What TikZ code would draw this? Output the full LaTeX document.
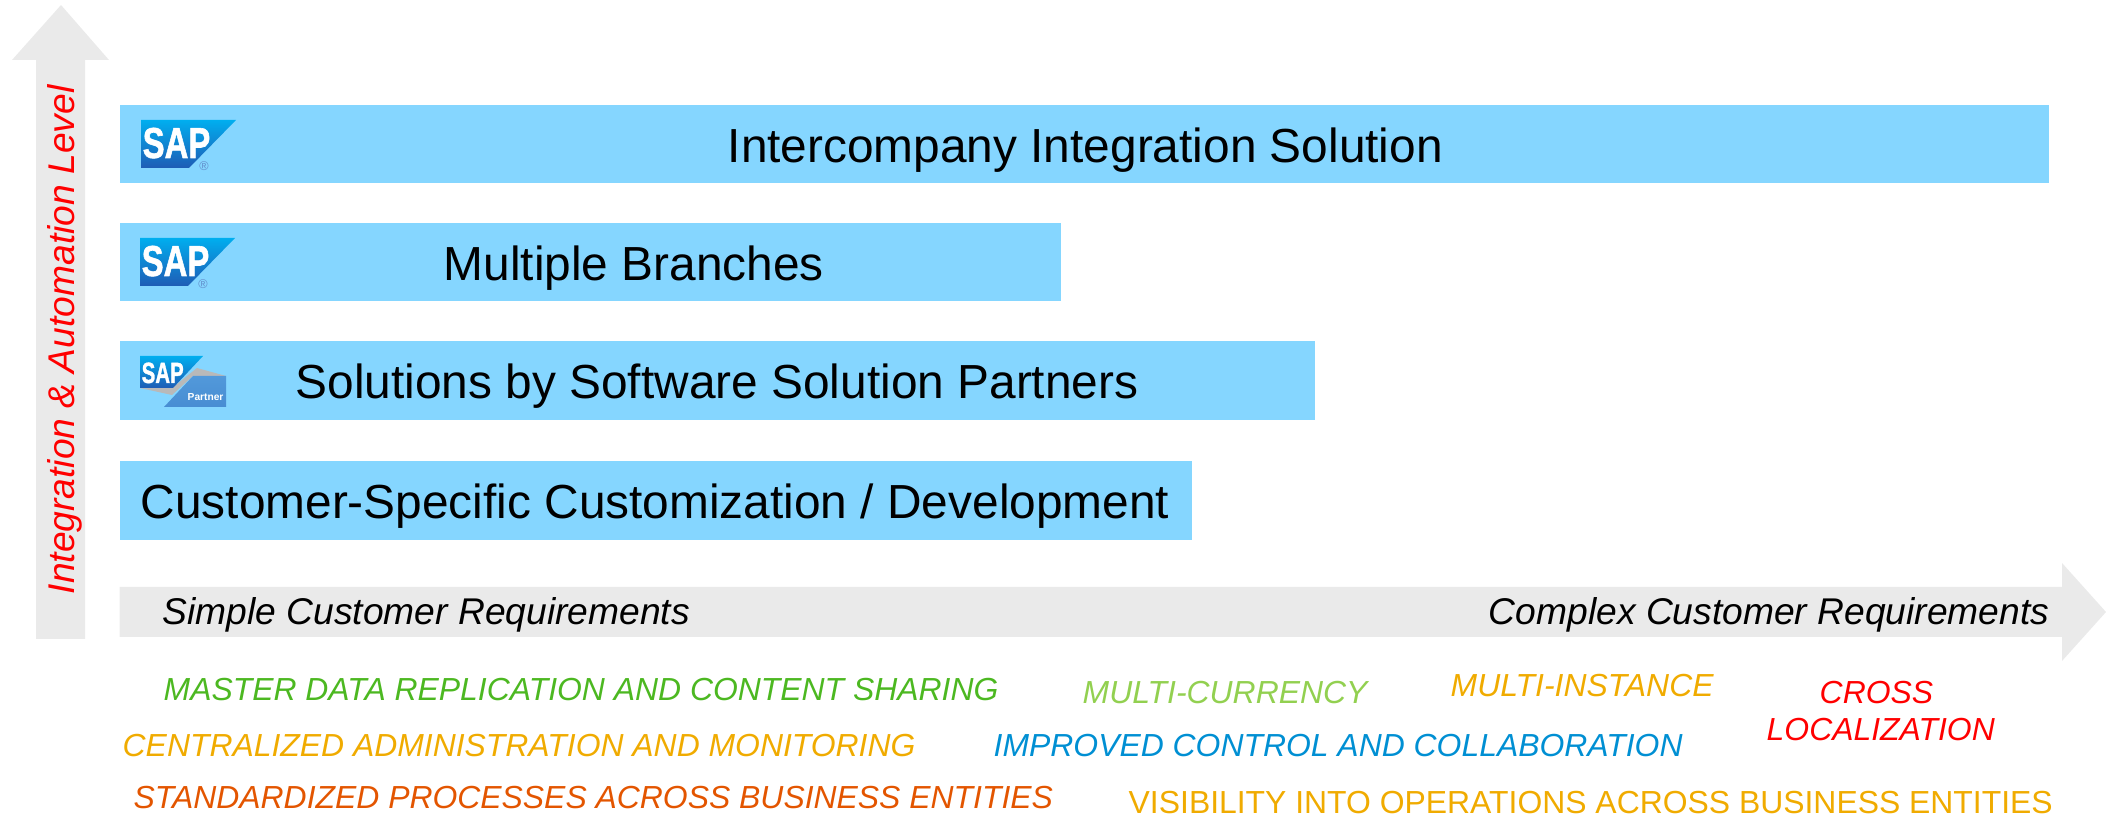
\documentclass[tikz,border=0pt]{standalone}
\usepackage{graphicx}
\usepackage{xcolor}
\usepackage{fontspec}
\setmainfont{Liberation Sans}
\newfontfamily\logofont[FakeBold=1.5]{Liberation Sans}
\usepackage{tikz}

\definecolor{barblue}{HTML}{85D6FF}
\definecolor{axisgrey}{HTML}{EAEAEA}
\definecolor{sapgreen}{HTML}{4CB821}
\definecolor{saplime}{HTML}{92D050}
\definecolor{sapamber}{HTML}{F0AB00}
\definecolor{sapcyan}{HTML}{008FD3}
\definecolor{saporange}{HTML}{E35500}
\definecolor{logotop}{HTML}{00AEEF}
\definecolor{logobottom}{HTML}{1F5CB5}

\tikzset{
  bar/.style={fill=barblue,draw=none,anchor=north west,inner sep=0pt},
  barlabel/.style={anchor=base west,inner sep=0pt,font=\fontsize{13.6pt}{16pt}\selectfont},
  axislabel/.style={anchor=base west,inner sep=0pt,font=\fontsize{10.58pt}{12pt}\selectfont\itshape},
  tag/.style={anchor=base west,inner sep=0pt,font=\fontsize{9.07pt}{10pt}\selectfont\itshape},
}

% logo, with its upper left corner at (#1,#2)
\newcommand{\saplogo}[3]{
  \shade[top color=logotop,bottom color=logobottom] (#1,#2) -- ++(95,0) -- ++(-47,48) -- ++(-48,0) -- cycle;
  \node[anchor=base west,inner sep=0pt,text=white,text depth=0pt] (#3) at (#1+1,#2+38)
    {\scalebox{0.76}[1]{\fontsize{12.3pt}{14pt}\logofont\bfseries SAP}};
  \node[anchor=center,inner sep=0pt,text=logobottom!70] (#3r) at (#1+63,#2+46)
    {\fontsize{3.6pt}{4pt}\selectfont\textregistered};
}

\begin{document}
\begin{tikzpicture}[x=0.01cm,y=-0.01cm]
  \useasboundingbox (0,0) rectangle (2106,816);
  % axes
  \fill[axisgrey] (61,5) -- (109,60) -- (85,60) -- (85,639) -- (36,639) -- (36,60) -- (12,60) -- cycle;
  \fill[axisgrey] (119.5,587) -- (2062,587) -- (2062,563) -- (2106,612) -- (2062,661) -- (2062,637) -- (119.5,637) -- cycle;
  % bars
  \node[bar,minimum width=19.28cm,minimum height=0.78cm] (barA) at (119.5,104) {};
  \node[bar,minimum width=9.4cm,minimum height=0.78cm] (barB) at (119.5,222) {};
  \node[bar,minimum width=11.94cm,minimum height=0.79cm] (barC) at (119.5,340) {};
  \node[bar,minimum width=10.71cm,minimum height=0.79cm] (barD) at (119.5,460) {};
  \node[barlabel] (textA) at (727,163) {Intercompany Integration Solution};
  \node[barlabel] (textB) at (443,281) {Multiple Branches};
  \node[barlabel] (textC) at (295,399) {Solutions by Software Solution Partners};
  \node[barlabel] (textD) at (140,519) {Customer-Specific Customization / Development};
  % logos
  \saplogo{141}{120}{logoA}
  \saplogo{140}{238}{logoB}
  \fill[gray!55] (140,388) -- (172,388) -- (197,368) -- (226,376) -- (193,376) -- (172,395) -- cycle;
  \shade[top color=barblue!50!logobottom,bottom color=logobottom!60!barblue] (193,376) -- (226,376) -- (226,407) -- (164,407) -- cycle;
  \shade[top color=logotop,bottom color=logobottom] (140,356) -- (203,356) -- (173,388) -- (140,388) -- cycle;
  \node[anchor=base west,inner sep=0pt,text=white] (logoC) at (141,383)
    {\scalebox{0.7}[1]{\fontsize{8.3pt}{9pt}\logofont\bfseries SAP}};
  \node[anchor=base west,inner sep=0pt,text=white] (logoCp) at (187,401)
    {\fontsize{2.9pt}{4pt}\selectfont\bfseries Partner};
  % axis labels
  \node[axislabel,text=red,rotate=90] (yaxis) at (74,595) {Integration \& Automation Level};
  \node[axislabel] (simple) at (162,625) {Simple Customer Requirements};
  \node[axislabel,anchor=base east] (complex) at (2050,625) {Complex Customer Requirements};
  % requirements
  \node[tag,text=sapgreen] (master) at (163,701) {MASTER DATA REPLICATION AND CONTENT SHARING};
  \node[tag,text=sapamber] (central) at (122,756) {CENTRALIZED ADMINISTRATION AND MONITORING};
  \node[tag,text=saporange] (standard) at (133,808) {STANDARDIZED PROCESSES ACROSS BUSINESS ENTITIES};
  \node[tag,text=saplime] (currency) at (1082,703) {MULTI-CURRENCY};
  \node[tag,text=sapamber] (instance) at (1450,696) {MULTI-INSTANCE};
  \node[tag,text=red] (cross) at (1819,703) {CROSS};
  \node[tag,text=red] (local) at (1766,741) {LOCALIZATION};
  \node[tag,text=sapcyan] (improved) at (993,756) {IMPROVED CONTROL AND COLLABORATION};
  \node[tag,text=sapamber,font=\fontsize{9.07pt}{10pt}\selectfont] (visible) at (1128,814) {VISIBILITY INTO OPERATIONS ACROSS BUSINESS ENTITIES};
\end{tikzpicture}
\end{document}
